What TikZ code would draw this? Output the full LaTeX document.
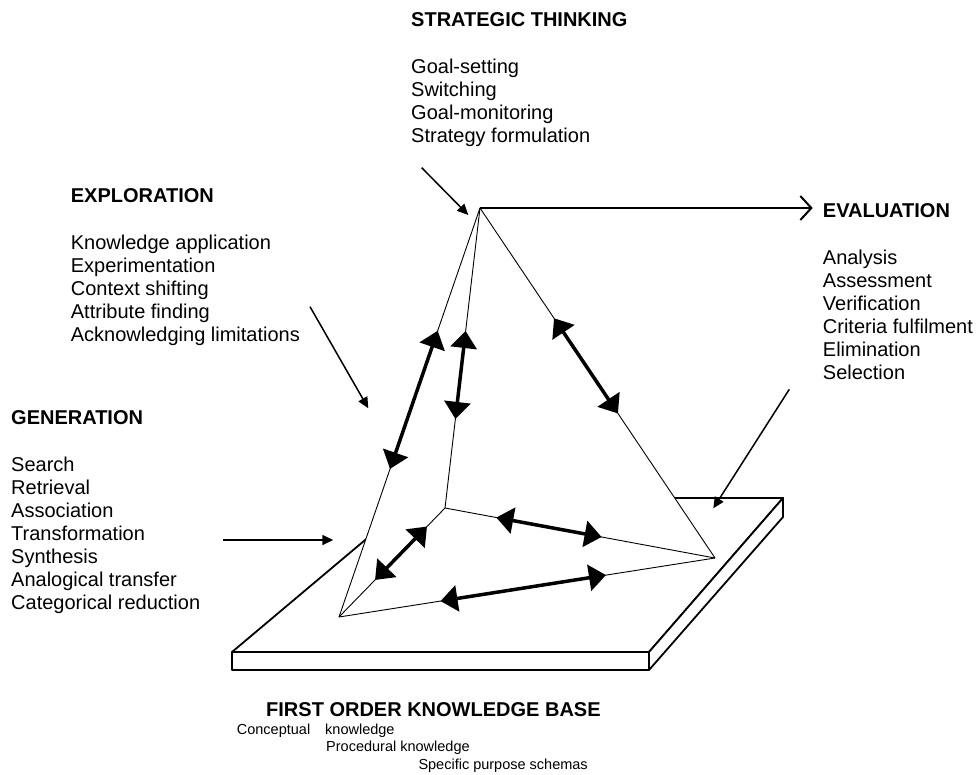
\documentclass[tikz,border=0pt]{standalone}
\usepackage{fontspec}
\setmainfont{Liberation Sans}
\usetikzlibrary{arrows.meta,calc,positioning}

\newcommand{\bodyfont}{\fontsize{20}{23}\selectfont}
\newcommand{\smallfont}{\fontsize{14.5}{17.5}\selectfont}
% heading on its baseline at (#2,#3), list starts two lines lower
\newcommand{\skillblock}[5]{%
	\node[heading] (#1) at (#2,#3) {#4};
	\foreach \txt [count=\idx] in {#5} {
		\node[listentry] (#1-\idx) at (#2,#3+24+23*\idx) {\txt};
	}
}

\begin{document}
\begin{tikzpicture}[x=1pt, y=-1pt,
	heading/.style={anchor=base west, inner sep=0pt, font=\bodyfont\bfseries},
	listentry/.style={anchor=base west, inner sep=0pt, font=\bodyfont},
	smallentry/.style={anchor=base west, inner sep=0pt, font=\smallfont},
	pyrline/.style={line width=0.9pt, line join=round},
	dblarrow/.style={line width=3.5pt, {Triangle[length=17pt,width=26pt]}-{Triangle[length=17pt,width=26pt]}},
	pointer/.style={line width=1.5pt, -{Triangle[length=11pt,width=10pt]}},
	slab/.style={line width=1.8pt, line join=round}]
	
	\useasboundingbox (0,0) rectangle (977,774);
	
	% corners of the pyramid
	\coordinate (apex) at (480,208);
	\coordinate (lft) at (339,617);
	\coordinate (bck) at (445,508);
	\coordinate (rgt) at (715,558);
	
	% the knowledge base slab
	\draw[slab, fill=white] (232,652) -- (415,498) -- (783,498) -- (649,652) -- cycle;
	\draw[slab, fill=white] (232,652) rectangle (649,670);
	\draw[slab, fill=white] (649,652) -- (783,498) -- (783,517) -- (649,670) -- cycle;
	
	% pyramid covers the back of the slab
	\fill[white] (apex) -- (lft) -- (rgt) -- cycle;
	\draw[pyrline] (apex) -- (lft) -- (rgt) -- cycle;
	\draw[pyrline] (apex) -- (bck) (lft) -- (bck) -- (rgt);
	
	% two way arrows on the edges
	\coordinate (al1) at ($(apex)!0.30!(lft)$);
	\coordinate (al2) at ($(apex)!0.638!(lft)$);
	\coordinate (ab1) at ($(apex)!0.41!(bck)$);
	\coordinate (ab2) at ($(apex)!0.703!(bck)$);
	\coordinate (ar1) at ($(apex)!0.315!(rgt)$);
	\coordinate (ar2) at ($(apex)!0.587!(rgt)$);
	\coordinate (br1) at ($(bck)!0.19!(rgt)$);
	\coordinate (br2) at ($(bck)!0.58!(rgt)$);
	\coordinate (lb1) at ($(lft)!0.34!(bck)$);
	\coordinate (lb2) at ($(lft)!0.83!(bck)$);
	\coordinate (lr1) at ($(lft)!0.27!(rgt)$);
	\coordinate (lr2) at ($(lft)!0.71!(rgt)$);
	\foreach \a/\b in {al1/al2, ab1/ab2, ar1/ar2, br1/br2, lb1/lb2, lr1/lr2}
		\draw[dblarrow] (\a) -- (\b);
	
	% the four processes
	\skillblock{strat}{411}{26}{STRATEGIC THINKING}{Goal-setting,Switching,Goal-monitoring,Strategy formulation}
	\skillblock{expl}{70.7}{202.7}{EXPLORATION}{Knowledge application,Experimentation,Context shifting,Attribute finding,Acknowledging limitations}
	\skillblock{gen}{11}{424.3}{GENERATION}{Search,Retrieval,Association,Transformation,Synthesis,Analogical transfer,Categorical reduction}
	\skillblock{eval}{822.7}{217.3}{EVALUATION}{Analysis,Assessment,Verification,Criteria fulfilment,Elimination,Selection}
	
	\node[heading] (kb) at (266,716.7) {FIRST ORDER KNOWLEDGE BASE};
	\node[smallentry] (kb-1) at (236.7,734) {Conceptual\hspace{15pt}knowledge};
	\node[smallentry] (kb-2) at (326,751.7) {Procedural knowledge};
	\node[smallentry] (kb-3) at (418.3,769) {Specific purpose schemas};
	
	% apex to evaluation
	\draw[line width=2pt, -{Straight Barb[length=11pt,width=24pt]}, shorten >=10pt] (apex) -- (apex -| eval.west);
	
	% pointers
	\coordinate (stratfrom) at (421.7,167.7);
	\coordinate (stratto) at (468.3,215);
	\coordinate (explfrom) at (310,306.7);
	\coordinate (explto) at (368.3,408.3);
	\coordinate (genfrom) at (223.3,540);
	\coordinate (gento) at (333.3,540);
	\coordinate (evalfrom) at (789.3,389.3);
	\coordinate (evalto) at (713.3,508.3);
	\draw[pointer] (stratfrom) -- (stratto);
	\draw[pointer] (explfrom) -- (explto);
	\draw[pointer] (genfrom) -- (gento);
	\draw[pointer] (evalfrom) -- (evalto);

\end{tikzpicture}
\end{document}
